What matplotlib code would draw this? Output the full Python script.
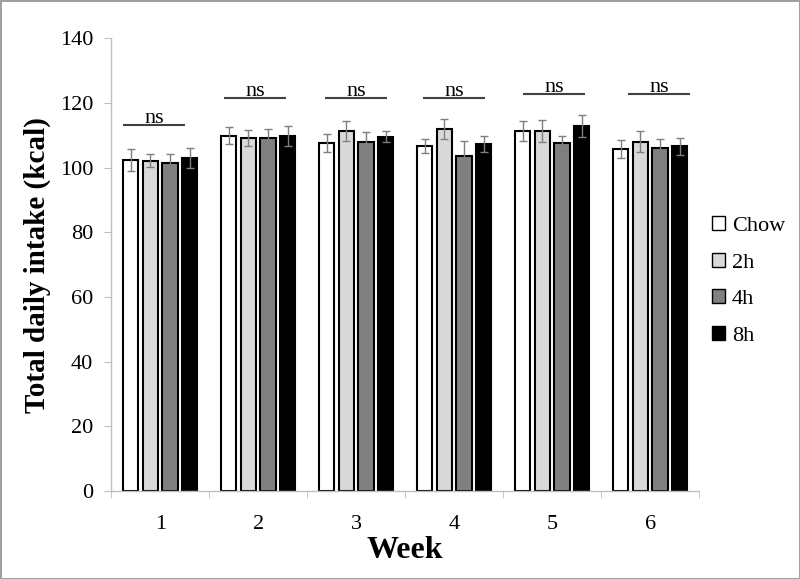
import matplotlib
matplotlib.use("Agg")
from matplotlib import pyplot as plt
from matplotlib.patches import Patch
import numpy as np

plt.rcParams['font.family'] = ['Liberation Serif', 'DejaVu Serif']

weeks = ['1', '2', '3', '4', '5', '6']
groups = ['Chow', '2h', '4h', '8h']
colors = ['#ffffff', '#d9d9d9', '#808080', '#000000']

chow = [102.3, 109.8, 107.6, 106.6, 111.3, 105.8]
h2 = [102.1, 109.2, 111.3, 112.0, 111.4, 108.0]
h4 = [101.3, 109.3, 107.9, 103.7, 107.6, 106.2]
h8 = [103.1, 109.9, 109.6, 107.3, 113.0, 106.6]

chow_err = [3.3, 2.6, 2.9, 2.1, 3.1, 2.7]
h2_err = [2.0, 2.5, 3.1, 3.1, 3.4, 3.2]
h4_err = [2.8, 2.7, 3.1, 4.6, 2.3, 2.5]
h8_err = [3.1, 3.1, 1.8, 2.6, 3.4, 2.7]

ns_level = [113.1, 121.6, 121.4, 121.4, 122.8, 122.7]
ns_shift = [-0.06, -0.03, 0.0, 0.0, 0.02, 0.09]

values = [chow, h2, h4, h8]
errors = [chow_err, h2_err, h4_err, h8_err]

fig = plt.figure(figsize=(8, 5.79), dpi=100)
fig.patch.set_edgecolor('#a0a0a0')
fig.patch.set_linewidth(2)
ax = fig.add_axes([0.139, 0.152, 0.735, 0.782])

x = np.arange(1, len(weeks) + 1)
offsets = [-0.3, -0.1, 0.1, 0.3]
for vals, errs, col, off, name in zip(values, errors, colors, offsets, groups):
    ax.bar(x + off, vals, width=0.155, color=col, edgecolor='black',
           linewidth=1.5, label=name, zorder=2)
    ax.errorbar(x + off, vals, yerr=errs, fmt='none', ecolor='#7f7f7f',
                elinewidth=1, capsize=3, capthick=1, zorder=3)

# ns annotations
for xi, lvl, sh in zip(x, ns_level, ns_shift):
    ax.plot([xi + sh - 0.315, xi + sh + 0.315], [lvl, lvl], color='#404040',
            linewidth=1.5, solid_capstyle='butt')
    ax.text(xi + sh, lvl - 0.9, 'ns', ha='center', va='bottom', fontsize=16)

ax.set_xlim(0.5, 6.5)
ax.set_ylim(0, 140)
ax.set_yticks(range(0, 141, 20))
ax.set_xticks(x)
ax.set_xticklabels(weeks, fontsize=16)
ax.set_xticks(np.arange(0.5, 6.6, 1), minor=True)
ax.tick_params(axis='x', which='major', length=0, pad=17)
ax.tick_params(axis='x', which='minor', length=5, color='#bfbfbf')
ax.tick_params(axis='y', labelsize=16, length=5, color='#bfbfbf', pad=8)

for s in ['top', 'right']:
    ax.spines[s].set_visible(False)
for s in ['left', 'bottom']:
    ax.spines[s].set_color('#bfbfbf')
    ax.spines[s].set_linewidth(1)

ax.set_xlabel('Week', fontsize=23, fontweight='bold', labelpad=2)
ax.set_ylabel('Total daily intake (kcal)', fontsize=21, fontweight='bold', labelpad=6)

handles = [Patch(facecolor=c, edgecolor='black', linewidth=1) for c in colors]
ax.legend(handles, groups, loc='center left', bbox_to_anchor=(0.995, 0.464),
          frameon=False, fontsize=16, handlelength=0.6, handleheight=0.6,
          handletextpad=0.3, labelspacing=0.75, borderaxespad=0.3)

fig.savefig('out.png', dpi=100, edgecolor=fig.get_edgecolor())
